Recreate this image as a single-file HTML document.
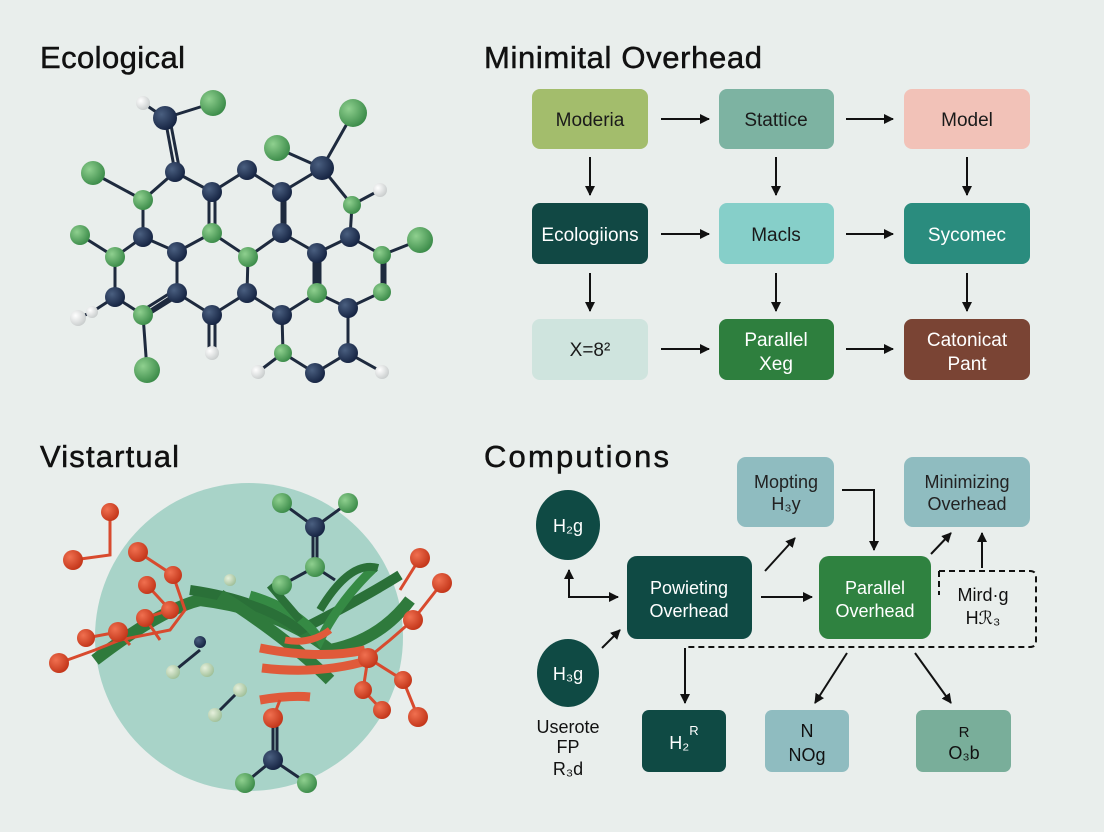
<!DOCTYPE html>
<html><head><meta charset="utf-8"><style>
html,body{margin:0;padding:0;background:#e9eeec;}
svg{display:block;font-family:"Liberation Sans",sans-serif;}
</style></head><body>
<svg width="1104" height="832" viewBox="0 0 1104 832" xmlns="http://www.w3.org/2000/svg">
<defs>
<radialGradient id="gd" cx="0.35" cy="0.35" r="0.7"><stop offset="0" stop-color="#4a5f80"/><stop offset="1" stop-color="#142240"/></radialGradient>
<radialGradient id="gg" cx="0.35" cy="0.35" r="0.7"><stop offset="0" stop-color="#8fd08f"/><stop offset="1" stop-color="#3a8a48"/></radialGradient>
<radialGradient id="gw" cx="0.35" cy="0.35" r="0.7"><stop offset="0" stop-color="#ffffff"/><stop offset="1" stop-color="#c8cccc"/></radialGradient>
<radialGradient id="gr" cx="0.35" cy="0.35" r="0.7"><stop offset="0" stop-color="#f07050"/><stop offset="1" stop-color="#c23418"/></radialGradient>
<radialGradient id="gp" cx="0.35" cy="0.35" r="0.7"><stop offset="0" stop-color="#e6f0dc"/><stop offset="1" stop-color="#9fbf98"/></radialGradient>
<marker id="ah" viewBox="0 0 10 10" refX="9" refY="5" markerWidth="5" markerHeight="5" orient="auto"><path d="M0,0 L10,5 L0,10 z" fill="#111"/></marker>
</defs>
<rect width="1104" height="832" fill="#e9eeec"/>

<!-- titles -->
<g font-size="31" fill="#111" stroke="#111" stroke-width="0.5">
<text x="40" y="68" textLength="145">Ecological</text>
<text x="484" y="68" textLength="278">Minimital Overhead</text>
<text x="40" y="467" textLength="139">Vistartual</text>
<text x="484" y="467" textLength="185">Computions</text>
</g>

<!-- molecule top-left -->
<g stroke="#1e2a3e" stroke-width="3" fill="none">
<path d="M143,103L165,118L213,103 M165,118L175,172 M170,120L180,172 M93,173L143,200L175,172L212,192L247,170L282,192L322,168L277,148 M322,168L353,113 M322,168L352,205L380,190 M143,200L143,237L177,252L212,233 M209,192L209,233 M215,192L215,233 M212,233L248,257L282,233 M282,192L282,233 M285,192L285,233 M212,233L248,257 M282,233L317,253L350,237L352,205 M350,237L382,255L420,240 M80,235L115,257L143,237 M177,252L177,293L143,315L115,297L115,257 M92,312L115,297 M78,318L92,312 M143,315L147,370 M177,293L212,315L247,293L248,257 M247,293L282,315L317,293L317,253 M314,253L314,293 M320,253L320,293 M382,255L382,292 M385,255L385,292 M317,293L348,308L382,292 M348,308L348,353L315,373L283,353L282,315 M209,315L209,353 M215,315L215,353 M258,372L283,353 M348,353L382,372 M146,316L178,296 M140,312L175,290"/>
</g>
<g>
<circle cx="143" cy="103" r="7" fill="url(#gw)"/>
<circle cx="165" cy="118" r="12" fill="url(#gd)"/>
<circle cx="213" cy="103" r="13" fill="url(#gg)"/>
<circle cx="353" cy="113" r="14" fill="url(#gg)"/>
<circle cx="277" cy="148" r="13" fill="url(#gg)"/>
<circle cx="322" cy="168" r="12" fill="url(#gd)"/>
<circle cx="93" cy="173" r="12" fill="url(#gg)"/>
<circle cx="175" cy="172" r="10" fill="url(#gd)"/>
<circle cx="247" cy="170" r="10" fill="url(#gd)"/>
<circle cx="212" cy="192" r="10" fill="url(#gd)"/>
<circle cx="282" cy="192" r="10" fill="url(#gd)"/>
<circle cx="143" cy="200" r="10" fill="url(#gg)"/>
<circle cx="380" cy="190" r="7" fill="url(#gw)"/>
<circle cx="352" cy="205" r="9" fill="url(#gg)"/>
<circle cx="80" cy="235" r="10" fill="url(#gg)"/>
<circle cx="143" cy="237" r="10" fill="url(#gd)"/>
<circle cx="212" cy="233" r="10" fill="url(#gg)"/>
<circle cx="282" cy="233" r="10" fill="url(#gd)"/>
<circle cx="350" cy="237" r="10" fill="url(#gd)"/>
<circle cx="420" cy="240" r="13" fill="url(#gg)"/>
<circle cx="115" cy="257" r="10" fill="url(#gg)"/>
<circle cx="177" cy="252" r="10" fill="url(#gd)"/>
<circle cx="248" cy="257" r="10" fill="url(#gg)"/>
<circle cx="317" cy="253" r="10" fill="url(#gd)"/>
<circle cx="382" cy="255" r="9" fill="url(#gg)"/>
<circle cx="115" cy="297" r="10" fill="url(#gd)"/>
<circle cx="177" cy="293" r="10" fill="url(#gd)"/>
<circle cx="247" cy="293" r="10" fill="url(#gd)"/>
<circle cx="317" cy="293" r="10" fill="url(#gg)"/>
<circle cx="382" cy="292" r="9" fill="url(#gg)"/>
<circle cx="92" cy="312" r="6" fill="url(#gw)"/>
<circle cx="78" cy="318" r="8" fill="url(#gw)"/>
<circle cx="143" cy="315" r="10" fill="url(#gg)"/>
<circle cx="212" cy="315" r="10" fill="url(#gd)"/>
<circle cx="282" cy="315" r="10" fill="url(#gd)"/>
<circle cx="348" cy="308" r="10" fill="url(#gd)"/>
<circle cx="212" cy="353" r="7" fill="url(#gw)"/>
<circle cx="147" cy="370" r="13" fill="url(#gg)"/>
<circle cx="283" cy="353" r="9" fill="url(#gg)"/>
<circle cx="348" cy="353" r="10" fill="url(#gd)"/>
<circle cx="258" cy="372" r="7" fill="url(#gw)"/>
<circle cx="315" cy="373" r="10" fill="url(#gd)"/>
<circle cx="382" cy="372" r="7" fill="url(#gw)"/>
</g>

<!-- protein bottom-left -->
<circle cx="249" cy="637" r="154" fill="#a8d3c8"/>
<g fill="none" stroke="#1e2a3e" stroke-width="3">
<path d="M282,503L315,527L348,503 M313,527L313,567 M317,527L317,567 M315,567L282,585 M315,567L335,580 M273,712L273,760 M277,712L277,760 M245,783L273,760L307,783 M215,715L240,690 M173,672L200,650"/>
</g>
<g fill="none" stroke-linecap="butt">
<path d="M95,660 Q160,610 200,600 Q280,610 330,650 Q380,640 410,600" stroke="#2f7a3c" stroke-width="12"/>
<path d="M190,590 Q260,600 300,630 Q360,600 400,575" stroke="#2a7038" stroke-width="10"/>
<path d="M220,595 Q290,640 330,680" stroke="#2f7a3c" stroke-width="12"/>
<path d="M250,595 Q300,610 320,640 Q340,600 375,567" stroke="#358a44" stroke-width="9"/>
<path d="M270,585 L300,620 M320,610 Q350,560 378,568" stroke="#2a7038" stroke-width="8"/>
<path d="M260,648 Q320,660 365,650" stroke="#e05a3a" stroke-width="9"/>
<path d="M262,668 Q320,675 370,660" stroke="#e05a3a" stroke-width="9"/>
<path d="M260,700 Q290,695 310,697" stroke="#e05a3a" stroke-width="9"/>
<path d="M285,640 Q310,645 330,630" stroke="#e05a3a" stroke-width="7"/>
</g>
<g fill="none" stroke="#d84a2e" stroke-width="3">
<path d="M110,512L110,555L73,560 M138,552L173,575L185,610L170,630L120,640L95,650L59,663 M147,585L170,610L145,618L160,640 M118,632L130,645 M86,638L118,632 M420,558L400,590 M442,583L413,620L390,640L368,658L403,680L418,717 M368,658L363,690L382,710 M273,718L280,700"/>
</g>
<g>
<circle cx="110" cy="512" r="9" fill="url(#gr)"/><circle cx="73" cy="560" r="10" fill="url(#gr)"/>
<circle cx="138" cy="552" r="10" fill="url(#gr)"/><circle cx="173" cy="575" r="9" fill="url(#gr)"/>
<circle cx="147" cy="585" r="9" fill="url(#gr)"/><circle cx="170" cy="610" r="9" fill="url(#gr)"/>
<circle cx="145" cy="618" r="9" fill="url(#gr)"/><circle cx="118" cy="632" r="10" fill="url(#gr)"/>
<circle cx="86" cy="638" r="9" fill="url(#gr)"/><circle cx="59" cy="663" r="10" fill="url(#gr)"/>
<circle cx="420" cy="558" r="10" fill="url(#gr)"/><circle cx="442" cy="583" r="10" fill="url(#gr)"/>
<circle cx="413" cy="620" r="10" fill="url(#gr)"/><circle cx="368" cy="658" r="10" fill="url(#gr)"/>
<circle cx="403" cy="680" r="9" fill="url(#gr)"/><circle cx="363" cy="690" r="9" fill="url(#gr)"/>
<circle cx="382" cy="710" r="9" fill="url(#gr)"/><circle cx="418" cy="717" r="10" fill="url(#gr)"/>
<circle cx="273" cy="718" r="10" fill="url(#gr)"/>
<circle cx="282" cy="503" r="10" fill="url(#gg)"/><circle cx="348" cy="503" r="10" fill="url(#gg)"/>
<circle cx="315" cy="527" r="10" fill="url(#gd)"/><circle cx="315" cy="567" r="10" fill="url(#gg)"/>
<circle cx="282" cy="585" r="10" fill="url(#gg)"/>
<circle cx="273" cy="760" r="10" fill="url(#gd)"/><circle cx="245" cy="783" r="10" fill="url(#gg)"/>
<circle cx="307" cy="783" r="10" fill="url(#gg)"/>
<circle cx="230" cy="580" r="6" fill="url(#gp)"/><circle cx="173" cy="672" r="7" fill="url(#gp)"/>
<circle cx="207" cy="670" r="7" fill="url(#gp)"/><circle cx="215" cy="715" r="7" fill="url(#gp)"/>
<circle cx="240" cy="690" r="7" fill="url(#gp)"/><circle cx="200" cy="642" r="6" fill="url(#gd)"/>
</g>

<!-- top-right flowchart -->
<g font-size="19" text-anchor="middle">
<rect x="532" y="89" width="116" height="60" rx="8" fill="#a3bd6c"/><text x="590" y="126" fill="#1a1a1a">Moderia</text>
<rect x="719" y="89" width="115" height="60" rx="8" fill="#7db3a2"/><text x="776" y="126" fill="#1a1a1a">Stattice</text>
<rect x="904" y="89" width="126" height="60" rx="8" fill="#f2c2b8"/><text x="967" y="126" fill="#1a1a1a">Model</text>
<rect x="532" y="203" width="116" height="61" rx="8" fill="#114844"/><text x="590" y="241" fill="#fff">Ecologiions</text>
<rect x="719" y="203" width="115" height="61" rx="8" fill="#86cfc9"/><text x="776" y="241" fill="#1a1a1a">Macls</text>
<rect x="904" y="203" width="126" height="61" rx="8" fill="#2a8c7e"/><text x="967" y="241" fill="#fff">Sycomec</text>
<rect x="532" y="319" width="116" height="61" rx="8" fill="#cfe4de"/><text x="590" y="356" fill="#1a1a1a">X=8²</text>
<rect x="719" y="319" width="115" height="61" rx="8" fill="#2e7f3e"/><text x="776" y="346" fill="#fff">Parallel</text><text x="776" y="370" fill="#fff">Xeg</text>
<rect x="904" y="319" width="126" height="61" rx="8" fill="#7a4434"/><text x="967" y="346" fill="#fff">Catonicat</text><text x="967" y="370" fill="#fff">Pant</text>
</g>
<g stroke="#111" stroke-width="2" marker-end="url(#ah)">
<line x1="661" y1="119" x2="709" y2="119"/><line x1="846" y1="119" x2="893" y2="119"/>
<line x1="661" y1="234" x2="709" y2="234"/><line x1="846" y1="234" x2="893" y2="234"/>
<line x1="661" y1="349" x2="709" y2="349"/><line x1="846" y1="349" x2="893" y2="349"/>
<line x1="590" y1="157" x2="590" y2="195"/><line x1="776" y1="157" x2="776" y2="195"/><line x1="967" y1="157" x2="967" y2="195"/>
<line x1="590" y1="273" x2="590" y2="311"/><line x1="776" y1="273" x2="776" y2="311"/><line x1="967" y1="273" x2="967" y2="311"/>
</g>

<!-- bottom-right -->
<path d="M939,571 L1030,571 Q1036,571 1036,577 L1036,641 Q1036,647 1030,647 L685,647 M939,571 L939,595" fill="none" stroke="#111" stroke-width="2" stroke-dasharray="6,4"/>
<g font-size="18" text-anchor="middle">
<rect x="737" y="457" width="97" height="70" rx="9" fill="#8fbcc0"/><text x="786" y="488" fill="#222">Mopting</text><text x="786" y="510" fill="#222">H₃y</text>
<rect x="904" y="457" width="126" height="70" rx="9" fill="#8fbcc0"/><text x="967" y="488" fill="#222">Minimizing</text><text x="967" y="510" fill="#222">Overhead</text>
<ellipse cx="568" cy="525" rx="32" ry="35" fill="#0f4a44"/><text x="568" y="532" fill="#fff">H₂g</text>
<ellipse cx="568" cy="673" rx="31" ry="34" fill="#0f4a44"/><text x="568" y="680" fill="#fff">H₃g</text>
<rect x="627" y="556" width="125" height="83" rx="10" fill="#0f4a44"/><text x="689" y="594" fill="#fff">Powieting</text><text x="689" y="617" fill="#fff">Overhead</text>
<rect x="819" y="556" width="112" height="83" rx="10" fill="#2f8240"/><text x="875" y="594" fill="#fff">Parallel</text><text x="875" y="617" fill="#fff">Overhead</text>
<text x="983" y="601" fill="#111">Mird·g</text><text x="983" y="624" fill="#111">Hℛ₃</text>
<text x="568" y="733" fill="#111">Userote</text><text x="568" y="753" fill="#111">FP</text><text x="568" y="775" fill="#111">R₃d</text>
<rect x="642" y="710" width="84" height="62" rx="7" fill="#0f4a44"/><text x="684" y="749" fill="#fff">H₂<tspan dy="-14" font-size="13">R</tspan></text>
<rect x="765" y="710" width="84" height="62" rx="7" fill="#8fbcc0"/><text x="807" y="737" fill="#111">N</text><text x="807" y="761" fill="#111">NOg</text>
<rect x="916" y="710" width="95" height="62" rx="7" fill="#79ae9a"/><text x="964" y="737" fill="#111" font-size="15">R</text><text x="964" y="759" fill="#111">O₃b</text>
</g>
<g stroke="#111" stroke-width="2" fill="none" marker-end="url(#ah)">
<path d="M597,597 L569,597 L569,570"/>
<path d="M569,597 L618,597"/>
<line x1="602" y1="648" x2="620" y2="630"/>
<line x1="761" y1="597" x2="812" y2="597"/>
<line x1="765" y1="571" x2="795" y2="538"/>
<path d="M842,490 L874,490 L874,550"/>
<line x1="931" y1="554" x2="951" y2="533"/>
<line x1="982" y1="568" x2="982" y2="533"/>
<line x1="685" y1="648" x2="685" y2="703"/>
<line x1="847" y1="653" x2="815" y2="703"/>
<line x1="915" y1="653" x2="951" y2="703"/>
</g>
</svg>
</body></html>
